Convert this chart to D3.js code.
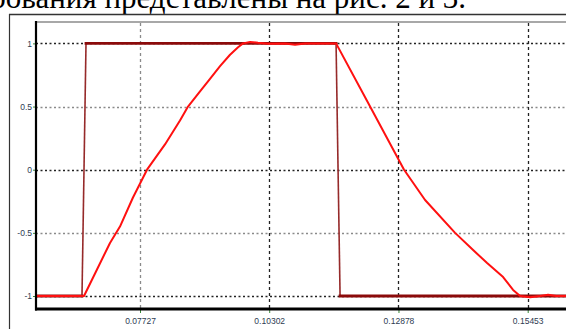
<!DOCTYPE html>
<html>
<head>
<meta charset="utf-8">
<script src="https://cdn.jsdelivr.net/npm/d3@7"></script>
<style>
  html, body { margin: 0; padding: 0; background: #fff; overflow: hidden; }
  svg { display: block; }
</style>
</head>
<body>
<svg id="chart" width="566" height="329"></svg>
<script>
// ---- data ----
const xTickValues = [0.07727, 0.10302, 0.12878, 0.15453];
const yTickValues = [1, 0.5, 0, -0.5, -1];

// reference (square wave, dark red)
const refTime  = [0.05654, 0.06571, 0.06651, 0.11634, 0.11714, 0.16219];
const refValue = [-1, -1, 1, 1, -1, -1];

// response (red)
const respTime = [0.05654, 0.06611, 0.06870, 0.07129, 0.07328, 0.07587, 0.07867, 0.08225, 0.08524,
                  0.08684, 0.08923, 0.09122, 0.09322, 0.09521, 0.09681, 0.09780, 0.09920, 0.10079, 0.10278,
                  0.10617, 0.10817, 0.11016, 0.11634, 0.12312, 0.12989, 0.13408, 0.14006, 0.14365,
                  0.14644, 0.14963, 0.15162, 0.15302, 0.15501, 0.15700, 0.15860, 0.16019, 0.16219];
const respValue = [-1, -1, -0.79, -0.58, -0.45, -0.22, 0, 0.2, 0.39,
                   0.5, 0.62, 0.72, 0.82, 0.91, 0.97, 1.0, 1.012, 1.005, 0.998,
                   1.0, 0.99, 1.0, 1.0, 0.5, 0.0, -0.24, -0.5, -0.636,
                   -0.739, -0.85, -0.952, -1.0, -1.01, -1.0, -0.99, -1.0, -1.0];

const captionText = "рования представлены на рис. 2 и 3.";

// ---- layout ----
const svg = d3.select("#chart");
const plotLeft = 36, plotRight = 566, plotTop = 22, plotBottom = 309;

const x = d3.scaleLinear().domain([0.07727, 0.15453]).range([140, 527.7]);
const y = d3.scaleLinear().domain([-1, 1]).range([296, 43.4]);

// caption text (cut off at top, as in the source)
svg.append("text")
  .attr("x", 466).attr("y", 7.5)
  .attr("text-anchor", "end")
  .attr("font-family", "'Liberation Serif', 'Times New Roman', serif")
  .attr("font-size", 31)
  .attr("fill", "#000")
  .text(captionText);

// outer frame
svg.append("line").attr("x1", 9).attr("x2", 566).attr("y1", 14.5).attr("y2", 14.5)
  .attr("stroke", "#333").attr("stroke-width", 1.5);
svg.append("line").attr("x1", 9.5).attr("x2", 9.5).attr("y1", 14).attr("y2", 329)
  .attr("stroke", "#333").attr("stroke-width", 1.2);

// gray top line of plot
svg.append("line").attr("x1", plotLeft).attr("x2", plotRight).attr("y1", 22).attr("y2", 22)
  .attr("stroke", "#a8a8a8").attr("stroke-width", 2);

// gridlines
const g = svg.append("g");
g.selectAll(".hgrid").data(yTickValues).enter().append("line")
  .attr("x1", plotLeft).attr("x2", plotRight)
  .attr("y1", d => Math.round(y(d)) + 0.5).attr("y2", d => Math.round(y(d)) + 0.5)
  .attr("stroke", d => (d === 0.5 || d === -0.5) ? "#8a8a8a" : "#222")
  .attr("stroke-width", 1.3)
  .attr("stroke-dasharray", "2,2.5");
g.selectAll(".vgrid").data(xTickValues).enter().append("line")
  .attr("x1", d => Math.round(x(d)) + 0.5).attr("x2", d => Math.round(x(d)) + 0.5)
  .attr("y1", plotTop + 1).attr("y2", plotBottom)
  .attr("stroke", (d, i) => i === 0 ? "#8a8a8a" : "#222")
  .attr("stroke-width", 1.3)
  .attr("stroke-dasharray", "3,3");

// clip
svg.append("clipPath").attr("id", "clip").append("rect")
  .attr("x", plotLeft).attr("y", plotTop).attr("width", plotRight - plotLeft).attr("height", plotBottom - plotTop);

const line = d3.line().x(d => x(d[0])).y(d => y(d[1]));
const respData = respTime.map((t, i) => [t, respValue[i]]);

// square wave drawn segment by segment: flat parts thick, transitions thin
const refSegs = d3.pairs(refTime.map((t, i) => [t, refValue[i]]));
svg.append("g").attr("clip-path", "url(#clip)")
  .selectAll("line").data(refSegs).enter().append("line")
  .attr("x1", d => x(d[0][0])).attr("y1", d => y(d[0][1]))
  .attr("x2", d => x(d[1][0])).attr("y2", d => y(d[1][1]))
  .attr("stroke", d => d[0][1] === d[1][1] ? "#8b0a0a" : "#962a2a")
  .attr("stroke-width", d => d[0][1] === d[1][1] ? 2.8 : 1.6)
  .attr("stroke-linecap", "square");

svg.append("path").datum(respData)
  .attr("clip-path", "url(#clip)")
  .attr("d", line).attr("fill", "none")
  .attr("stroke", "#ff1010").attr("stroke-width", 2)
  .attr("stroke-linejoin", "round");

// axes
const xAxis = d3.axisBottom(x).tickValues(xTickValues).tickFormat(d => d.toFixed(5)).tickSize(4).tickPadding(5);
const xg = svg.append("g").attr("transform", `translate(0,${plotBottom})`).call(xAxis);
xg.select(".domain").remove();
xg.selectAll(".tick line").attr("stroke", "#3a8a3a");
xg.selectAll(".tick text")
  .attr("font-family", "'Liberation Sans', Arial, sans-serif")
  .attr("font-size", 8.5).attr("fill", "#2e3b52");

const yAxis = d3.axisLeft(y).tickValues(yTickValues).tickFormat(d => String(d)).tickSize(3).tickPadding(1);
const yg = svg.append("g").attr("transform", `translate(${plotLeft},0)`).call(yAxis);
yg.select(".domain").remove();
yg.selectAll(".tick line").attr("stroke", "#3a8a3a");
yg.selectAll(".tick text")
  .attr("font-family", "'Liberation Sans', Arial, sans-serif")
  .attr("font-size", 8.5).attr("fill", "#2e3b52");

// black axis lines
svg.append("line").attr("x1", plotLeft).attr("x2", plotLeft).attr("y1", plotTop - 1).attr("y2", plotBottom + 1.5)
  .attr("stroke", "#000").attr("stroke-width", 2.2);
svg.append("line").attr("x1", plotLeft - 1).attr("x2", plotRight).attr("y1", plotBottom).attr("y2", plotBottom)
  .attr("stroke", "#000").attr("stroke-width", 2.8);
</script>
</body>
</html>
